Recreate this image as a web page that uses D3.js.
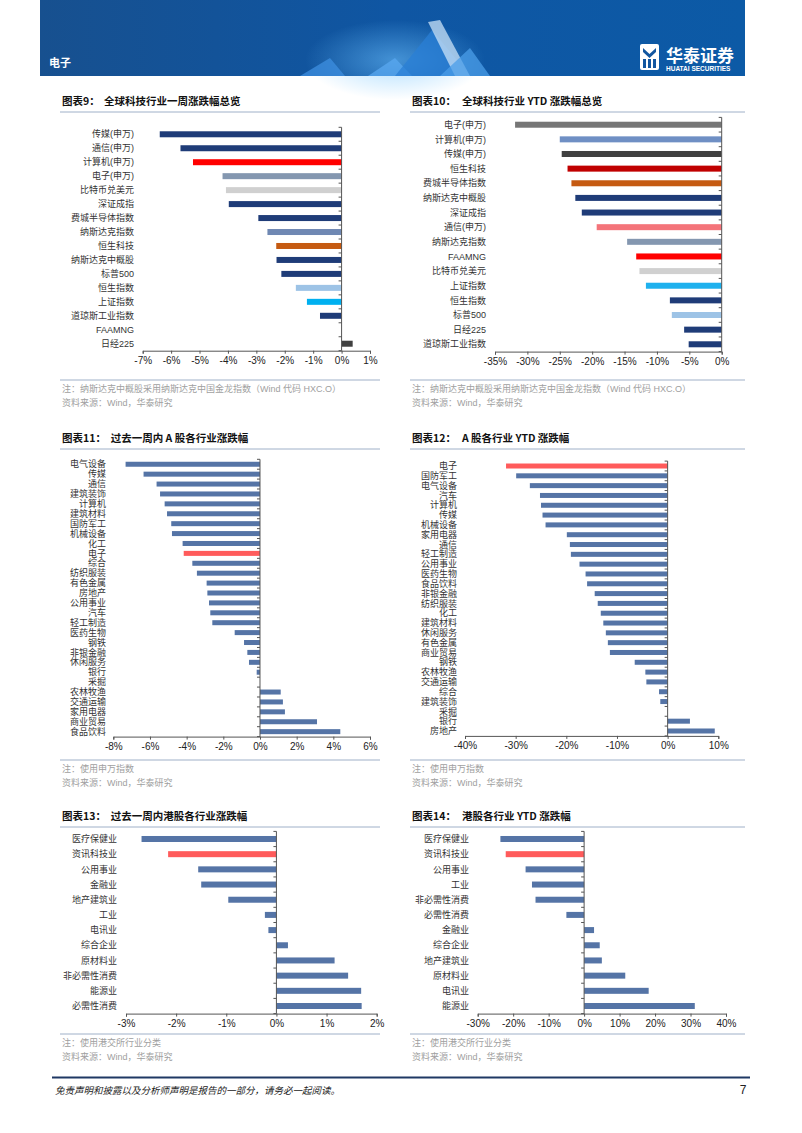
<!DOCTYPE html>
<html><head><meta charset="utf-8">
<script src="https://cdn.jsdelivr.net/npm/d3@7"></script>
<style>html,body{margin:0;padding:0;background:#fff}svg{display:block}</style>
</head><body>
<script>
// ---------- DATA ----------
const cats9 = ["传媒(申万)","通信(申万)","计算机(申万)","电子(申万)","比特币兑美元","深证成指","费城半导体指数","纳斯达克指数","恒生科技","纳斯达克中概股","标普500","恒生指数","上证指数","道琼斯工业指数","FAAMNG","日经225"];
const vals9 = [-6.40,-5.67,-5.23,-4.19,-4.07,-3.97,-2.93,-2.61,-2.30,-2.29,-2.12,-1.61,-1.22,-0.76,0,0.39];
const ticks9 = [-7,-6,-5,-4,-3,-2,-1,0,1];

const cats10 = ["电子(申万)","计算机(申万)","传媒(申万)","恒生科技","费城半导体指数","纳斯达克中概股","深证成指","通信(申万)","纳斯达克指数","FAAMNG","比特币兑美元","上证指数","恒生指数","标普500","日经225","道琼斯工业指数"];
const vals10 = [-31.9,-25.0,-24.7,-23.8,-23.2,-22.6,-21.6,-19.3,-14.6,-13.2,-12.7,-11.7,-8.0,-7.7,-5.8,-5.1];
const ticks10 = [-35,-30,-25,-20,-15,-10,-5,0];

const cats11 = ["电气设备","传媒","通信","建筑装饰","计算机","建筑材料","国防军工","机械设备","化工","电子","综合","纺织服装","有色金属","房地产","公用事业","汽车","轻工制造","医药生物","钢铁","非银金融","休闲服务","银行","采掘","农林牧渔","交通运输","家用电器","商业贸易","食品饮料"];
const vals11 = [-7.33,-6.35,-5.64,-5.45,-5.20,-5.07,-4.84,-4.80,-4.22,-4.16,-3.69,-3.44,-2.91,-2.87,-2.78,-2.71,-2.60,-1.38,-0.87,-0.69,-0.60,-0.18,0,1.13,1.25,1.36,3.11,4.38];
const ticks11 = [-8,-6,-4,-2,0,2,4,6];

const cats12 = ["电子","国防军工","电气设备","汽车","计算机","传媒","机械设备","家用电器","通信","轻工制造","公用事业","医药生物","食品饮料","非银金融","纺织服装","化工","建筑材料","休闲服务","有色金属","商业贸易","钢铁","农林牧渔","交通运输","综合","建筑装饰","采掘","银行","房地产"];
const vals12 = [-31.9,-29.9,-27.2,-25.2,-25.0,-24.7,-24.1,-19.9,-19.3,-19.1,-17.4,-16.2,-15.9,-14.4,-13.8,-13.2,-12.7,-12.2,-11.8,-11.4,-6.5,-4.4,-4.2,-1.7,-1.45,0,4.4,9.3];
const ticks12 = [-40,-30,-20,-10,0,10];

const cats13 = ["医疗保健业","资讯科技业","公用事业","金融业","地产建筑业","工业","电讯业","综合企业","原材料业","非必需性消费","能源业","必需性消费"];
const vals13 = [-2.69,-2.16,-1.56,-1.50,-0.96,-0.23,-0.16,0.23,1.16,1.43,1.69,1.70];
const ticks13 = [-3,-2,-1,0,1,2];

const cats14 = ["医疗保健业","资讯科技业","公用事业","工业","非必需性消费","必需性消费","金融业","综合企业","地产建筑业","原材料业","电讯业","能源业"];
const vals14 = [-23.6,-22.1,-16.5,-14.7,-13.7,-5.0,2.8,4.4,5.0,11.6,18.2,31.2];
const ticks14 = [-30,-20,-10,0,10,20,30,40];

// ---------- STYLES ----------
const NAVY="#1f3c78", STEEL="#5574a6", RED="#ff0000", LRED="#ff5b5b";
const colors9 = [NAVY,NAVY,RED,"#8497b0","#d0d0d0",NAVY,NAVY,"#6f88b3","#c55a11",NAVY,NAVY,"#9dc3e6","#00b0f0",NAVY,NAVY,"#404040"];
const colors10 = ["#767676","#6f8fc4","#404040","#c00000","#c55a11",NAVY,NAVY,"#f4747a","#8497b0",RED,"#d0d0d0","#1fb1ee",NAVY,"#9dc3e6",NAVY,NAVY];
const colors11 = cats11.map(c => c==="电子" ? LRED : STEEL);
const colors12 = cats12.map(c => c==="电子" ? LRED : STEEL);
const colors13 = cats13.map(c => c==="资讯科技业" ? LRED : STEEL);
const colors14 = cats14.map(c => c==="资讯科技业" ? LRED : STEEL);

const W=802,H=1133;
const svg = d3.select("body").append("svg").attr("width",W).attr("height",H);
const FONT = "'Liberation Sans','Noto Sans CJK SC',sans-serif";
const CJK = "'Noto Sans CJK SC','Liberation Sans',sans-serif";

// ---------- HEADER ----------
const defs = svg.append("defs");
const g1 = defs.append("linearGradient").attr("id","hdr").attr("x1","0").attr("x2","1");
g1.append("stop").attr("offset","0").attr("stop-color","#17508f");
g1.append("stop").attr("offset","0.5").attr("stop-color","#0f56a3");
g1.append("stop").attr("offset","1").attr("stop-color","#0c5aa6");
const rg = defs.append("radialGradient").attr("id","glow");
rg.append("stop").attr("offset","0").attr("stop-color","#6fc3ff").attr("stop-opacity",0.55);
rg.append("stop").attr("offset","1").attr("stop-color","#6fc3ff").attr("stop-opacity",0);
svg.append("rect").attr("x",40).attr("y",0).attr("width",705).attr("height",76).attr("fill","url(#hdr)");
svg.append("ellipse").attr("cx",395).attr("cy",60).attr("rx",90).attr("ry",40).attr("fill","url(#glow)");
const deco = [
  [[300,76],[330,58],[345,76]],[[368,76],[395,58],[412,76]],[[395,76],[432,30],[470,76]],
  [[428,22],[440,20],[470,76],[455,76]],[[440,76],[470,48],[490,76]]
];
svg.selectAll("polygon.deco").data(deco).join("polygon").attr("class","deco")
  .attr("points",d=>d.map(p=>p.join(",")).join(" "))
  .attr("fill",(d,i)=>["#3d8fe0","#5aa8f0","#2a7fd6","#c9e1f7","#4b9ee8"][i]).attr("opacity",0.75);
svg.append("text").attr("x",49).attr("y",67).text("电子").attr("fill","#fff")
  .style("font-family",CJK).style("font-size","11px").style("font-weight","bold");
// logo
const lg = svg.append("g").attr("transform","translate(640,44)");
lg.append("rect").attr("x",0).attr("y",0).attr("width",19).attr("height",26).attr("rx",2).attr("fill","#fff");
lg.append("path").attr("d","M3 4 L9.5 10 L16 4 L16 8 L9.5 14 L3 8Z M3 15 L6 15 L6 24 L3 24Z M8 15 L11 15 L11 24 L8 24Z M13 15 L16 15 L16 24 L13 24Z").attr("fill","#1256a0");
svg.append("text").attr("x",666).attr("y",62).text("华泰证券").attr("fill","#fff")
  .style("font-family",CJK).style("font-size","17px").style("font-weight","bold");
svg.append("text").attr("x",666).attr("y",71).text("HUATAI SECURITIES").attr("fill","#fff")
  .style("font-family",FONT).style("font-size","6.5px").style("font-weight","bold");

// ---------- CHART FUNCTION ----------
function drawChart(o){
  const g = svg.append("g");
  // title
  g.append("text").attr("x",o.tx).attr("y",o.ty).text(o.tnum).attr("fill","#111")
    .style("font-family",CJK).style("font-size","10.5px").style("font-weight","bold");
  g.append("text").attr("x",o.tx2).attr("y",o.ty).text(o.title).attr("fill","#111")
    .style("font-family",CJK).style("font-size","10.5px").style("font-weight","bold");
  g.append("line").attr("x1",o.lx1).attr("x2",o.lx2).attr("y1",o.ty+7).attr("y2",o.ty+7)
    .attr("stroke","#9fb0c8").attr("stroke-width",1);
  // scales
  const x = d3.scaleLinear().domain(o.domain).range(o.xr);
  const y = d3.scaleBand().domain(o.cats).range([o.y0, o.y1]).padding(0);
  const bw = y.bandwidth();
  // bars
  g.selectAll("rect.bar").data(o.vals).join("rect").attr("class","bar")
    .attr("x",d=>x(Math.min(0,d))).attr("width",d=>Math.abs(x(d)-x(0)))
    .attr("y",(d,i)=>y(o.cats[i])+(bw-o.bh)/2).attr("height",o.bh)
    .attr("fill",(d,i)=>o.colors[i]);
  // category labels
  g.selectAll("text.cat").data(o.cats).join("text").attr("class","cat")
    .attr("x",o.lr).attr("y",d=>y(d)+bw/2).attr("dy","0.35em").attr("text-anchor","end")
    .text(d=>d).attr("fill","#333").style("font-family",FONT).style("font-size",o.lfs+"px");
  // zero vertical axis with tick marks at band edges
  const x0 = x(0);
  g.append("line").attr("x1",x0).attr("x2",x0).attr("y1",o.y0).attr("y2",o.y1).attr("stroke","#555").attr("stroke-width",1);
  const edges = o.cats.map(c=>y(c)).concat([o.y1]);
  g.selectAll("line.ct").data(edges).join("line").attr("class","ct")
    .attr("x1",x0-3).attr("x2",x0).attr("y1",d=>d).attr("y2",d=>d).attr("stroke","#555");
  // x axis
  const ax = d3.axisBottom(x).tickValues(o.ticks).tickSize(3).tickFormat(d=>d+"%");
  const axg = g.append("g").attr("transform",`translate(0,${o.y1})`).call(ax);
  axg.select(".domain").attr("stroke","#555");
  axg.selectAll(".tick line").attr("stroke","#555");
  axg.selectAll(".tick text").attr("fill","#222").attr("y",6)
    .style("font-family",FONT).style("font-size","10px");
  // bottom line, note, source
  g.append("line").attr("x1",o.lx1).attr("x2",o.lx2).attr("y1",o.by).attr("y2",o.by)
    .attr("stroke","#9fb0c8").attr("stroke-width",1);
  g.append("text").attr("x",o.tx).attr("y",o.by+12).text(o.note).attr("fill","#a0a0a0")
    .style("font-family",FONT).style("font-size","9px");
  if(o.src) g.append("text").attr("x",o.tx).attr("y",o.by+26).text(o.src).attr("fill","#a0a0a0")
    .style("font-family",FONT).style("font-size","9px");
}

const note9 = "注：纳斯达克中概股采用纳斯达克中国金龙指数（Wind 代码 HXC.O）";
const note11 = "注：使用申万指数";
const note13 = "注：使用港交所行业分类";
const src = "资料来源：Wind，华泰研究";

drawChart({cats:cats9,vals:vals9,ticks:ticks9,colors:colors9,domain:[-7,1],xr:[142.7,370],
  y0:127.3,y1:350.7,bh:6,lr:134,lfs:9,tx:62,tx2:104,ty:105,lx1:60,lx2:380,tnum:"图表9：",
  title:"全球科技行业一周涨跌幅总览",by:380,note:note9,src:src});
drawChart({cats:cats10,vals:vals10,ticks:ticks10,colors:colors10,domain:[-35,0],xr:[495,721.7],
  y0:117.4,y1:351.6,bh:6,lr:486,lfs:9,tx:412,tx2:462,ty:105,lx1:410,lx2:745,tnum:"图表10：",
  title:"全球科技行业 YTD 涨跌幅总览",by:380,note:note9,src:src});
drawChart({cats:cats11,vals:vals11,ticks:ticks11,colors:colors11,domain:[-8,6],xr:[113.3,370],
  y0:459.3,y1:736.6,bh:5,lr:106,lfs:9,tx:62,tx2:110.7,ty:442,lx1:60,lx2:380,tnum:"图表11：",
  title:"过去一周内 A 股各行业涨跌幅",by:760,note:note11,src:src});
drawChart({cats:cats12,vals:vals12,ticks:ticks12,colors:colors12,domain:[-40,10],xr:[465,718.3],
  y0:461.1,y1:735.9,bh:5,lr:457,lfs:9,tx:412,tx2:462,ty:442,lx1:410,lx2:745,tnum:"图表12：",
  title:"A 股各行业 YTD 涨跌幅",by:760,note:note11,src:src});
drawChart({cats:cats13,vals:vals13,ticks:ticks13,colors:colors13,domain:[-3,2],xr:[126,376.7],
  y0:831.4,y1:1013.6,bh:6,lr:117,lfs:9,tx:62,tx2:110.7,ty:820,lx1:60,lx2:380,tnum:"图表13：",
  title:"过去一周内港股各行业涨跌幅",by:1034,note:note13,src:src});
drawChart({cats:cats14,vals:vals14,ticks:ticks14,colors:colors14,domain:[-30,40],xr:[477.7,726],
  y0:831.4,y1:1013.6,bh:6,lr:469,lfs:9,tx:412,tx2:462,ty:820,lx1:410,lx2:745,tnum:"图表14：",
  title:"港股各行业 YTD 涨跌幅",by:1034,note:note13,src:src});

// ---------- FOOTER ----------
svg.append("line").attr("x1",52).attr("x2",750).attr("y1",1077.5).attr("y2",1077.5)
  .attr("stroke","#1f3864").attr("stroke-width",2);
svg.append("text").attr("x",55).attr("y",1094).text("免责声明和披露以及分析师声明是报告的一部分，请务必一起阅读。")
  .attr("fill","#222").style("font-family",CJK).style("font-size","9.5px").style("font-style","italic");
svg.append("text").attr("x",743).attr("y",1094).text("7").attr("text-anchor","middle")
  .attr("fill","#222").style("font-family",FONT).style("font-size","12px");
</script>
</body></html>
